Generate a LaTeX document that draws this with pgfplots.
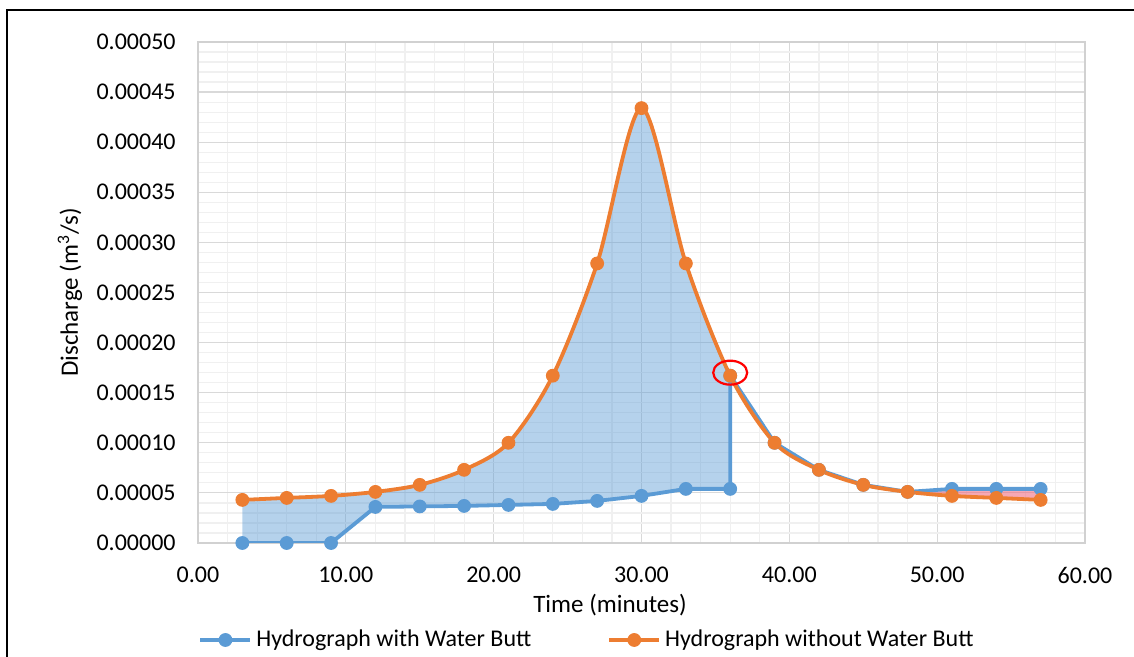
\documentclass[border=0pt]{standalone}
\usepackage{pgfplots}
\pgfplotsset{compat=1.18}
\usepgfplotslibrary{fillbetween}
\usepackage{fontspec}
\setmainfont{Carlito}
\definecolor{cblue}{RGB}{91,155,213}
\definecolor{corange}{RGB}{237,125,49}
\definecolor{cpink}{RGB}{240,110,130}
\begin{document}
\begin{tikzpicture}
\fontsize{12}{14}\selectfont
\begin{axis}[
  at={(99pt,57pt)}, anchor=south west,
  scale only axis, width=443.5pt, height=250.5pt,
  xmin=0, xmax=60, ymin=0, ymax=0.0005,
  xtick={0,10,20,30,40,50,60},
  xticklabels={0.00,10.00,20.00,30.00,40.00,50.00,60.00},
  ytick={0,0.00005,0.0001,0.00015,0.0002,0.00025,0.0003,0.00035,0.0004,0.00045,0.0005},
  yticklabels={0.00000,0.00005,0.00010,0.00015,0.00020,0.00025,0.00030,0.00035,0.00040,0.00045,0.00050},
  scaled y ticks=false, scaled x ticks=false,
  minor x tick num=4, minor y tick num=4,
  grid=both,
  major grid style={draw=black!15, line width=0.6pt},
  minor grid style={draw=black!6, line width=0.6pt},
  axis line style={draw=black!18, line width=0.8pt},
  tick style={draw=none},
  every tick label/.append style={font=\fontsize{12}{14}\selectfont},
  yticklabel style={xshift=-7pt},
  xticklabel style={yshift=-8pt},
  xlabel={Time (minutes)},
  ylabel={Discharge (m\textsuperscript{3}/s)},
  label style={font=\fontsize{12.5}{14}\selectfont},
  xlabel style={at={(axis description cs:0.4645,-0.1238)}, anchor=center},
  ylabel style={at={(axis description cs:-0.1443,0.5)}, anchor=center, rotate=0},
  legend columns=2,
  legend style={at={(axis description cs:0.4397,-0.1936)}, anchor=center, draw=none, fill=none,
    font=\fontsize{12}{14}\selectfont,
    /tikz/every even column/.append style={column sep=36pt}},
  legend image code/.code={\draw[mark repeat=2,mark phase=2,#1] plot coordinates {(0pt,0pt) (12.5pt,0pt) (25pt,0pt)};},
]
% invisible boundaries for the fills
\addplot[draw=none, forget plot, name path=blueA] coordinates {
 (3,0) (6,0) (9,0) (12,0.000036) (15,0.0000365) (18,0.000037) (21,0.000038) (24,0.000039)
 (27,0.000042) (30,0.000047) (33,0.000054) (36,0.000054) (36,0.000167)};
\addplot[draw=none, forget plot, smooth, name path=orangeA] coordinates {
 (3,0.000043) (6,0.000045) (9,0.000047) (12,0.000051) (15,0.000058) (18,0.000073) (21,0.0001)
 (24,0.000167) (27,0.000279) (30,0.000434) (33,0.000279) (36,0.000167) (39,0.0001)};
\addplot[draw=none, forget plot, name path=blueB] coordinates {
 (48,0.000051) (51,0.000054) (54,0.000054) (57,0.000054)};
\addplot[draw=none, forget plot, smooth, name path=orangeB] coordinates {
 (48,0.000051) (51,0.000047) (54,0.000045) (57,0.000043)};
\addplot[fill=cblue, fill opacity=0.45, draw=none, forget plot] fill between[of=orangeA and blueA];
% blue series
\addplot[cblue, line width=1.9pt, mark=*, mark size=3.2pt, mark options={solid, fill=cblue, draw=cblue, line width=0.5pt}] coordinates {
 (3,0) (6,0) (9,0) (12,0.000036) (15,0.0000365) (18,0.000037) (21,0.000038) (24,0.000039)
 (27,0.000042) (30,0.000047) (33,0.000054) (36,0.000054) (36,0.000167) (39,0.0001) (42,0.000073)
 (45,0.000058) (48,0.000051) (51,0.000054) (54,0.000054) (57,0.000054)};
\addlegendentry{Hydrograph with Water Butt}
% orange series
\addplot[corange, line width=1.9pt, smooth, mark=*, mark size=3.2pt, mark options={solid, fill=corange, draw=corange, line width=0.5pt}] coordinates {
 (3,0.000043) (6,0.000045) (9,0.000047) (12,0.000051) (15,0.000058) (18,0.000073) (21,0.0001)
 (24,0.000167) (27,0.000279) (30,0.000434) (33,0.000279) (36,0.000167) (39,0.0001) (42,0.000073)
 (45,0.000058) (48,0.000051) (51,0.000047) (54,0.000045) (57,0.000043)};
\addlegendentry{Hydrograph without Water Butt}
\addplot[fill=cpink, fill opacity=0.6, draw=none, forget plot] fill between[of=blueB and orangeB];
\draw[red, line width=1.1pt] (axis cs:36,0.000170) ellipse [x radius=8.5pt, y radius=6pt];
\end{axis}
\draw[line width=1pt] (3.5pt,0pt) -- (3.5pt,323.5pt) -- (567pt,323.5pt);
\pgfresetboundingbox
\useasboundingbox (0,0) rectangle (567pt,328.5pt);
\end{tikzpicture}
\end{document}
